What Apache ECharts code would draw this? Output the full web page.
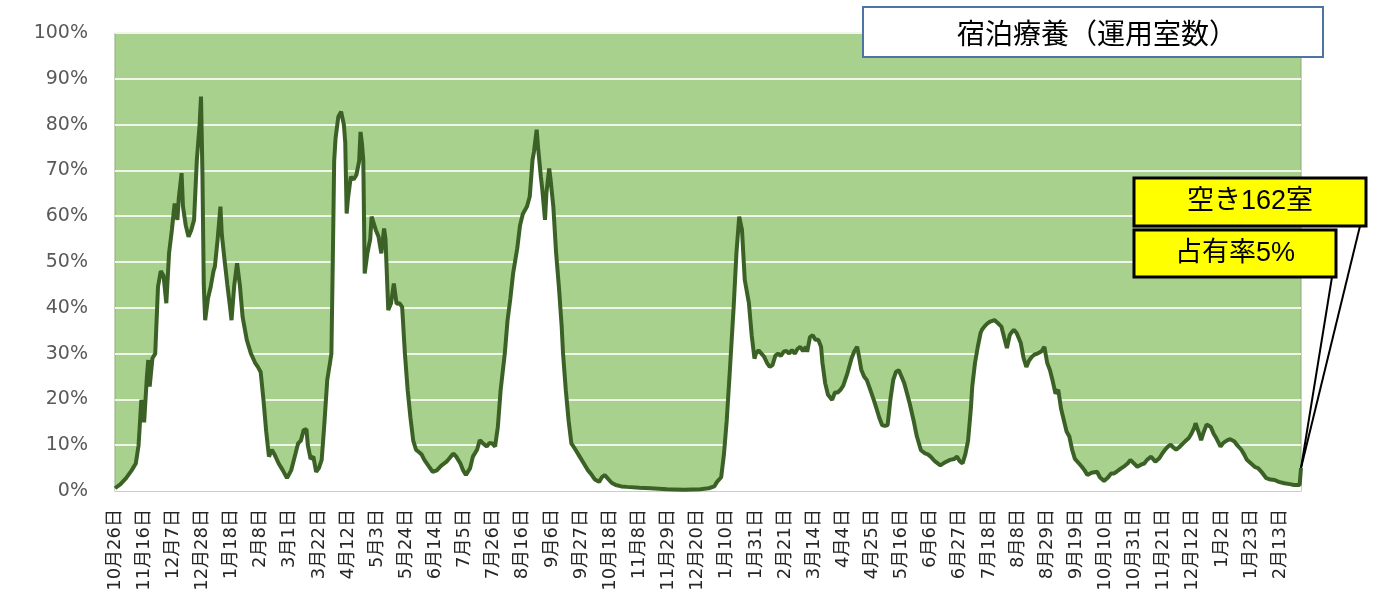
<!DOCTYPE html>
<html>
<head>
<meta charset="utf-8">
<script src="https://cdn.jsdelivr.net/npm/echarts@6/dist/echarts.min.js"></script>
<style>
html,body{margin:0;padding:0;background:#fff;}
#main{width:1382px;height:614px;}
</style>
</head>
<body>
<div id="main"></div>
<script>
// Start date of the series: 2020-10-26 (day 0). One point per listed day.
const startDate = '2020-10-26';
const lastDay = 855;
const tickLabels = ['10月26日','11月16日','12月7日','12月28日','1月18日','2月8日','3月1日','3月22日','4月12日','5月3日','5月24日','6月14日','7月5日','7月26日','8月16日','9月6日','9月27日','10月18日','11月8日','11月29日','12月20日','1月10日','1月31日','2月21日','3月14日','4月4日','4月25日','5月16日','6月6日','6月27日','7月18日','8月8日','8月29日','9月19日','10月10日','10月31日','11月21日','12月12日','1月2日','1月23日','2月13日'];

// days since startDate
const days = [0,4,8,12,15,17,19,21,23,24,25,27,29,31,33,35,37,39,41,43,45,46,48,49,51,53,55,57,59,61,62,63,64,65,67,69,71,72,74,76,77,79,81,83,84,86,88,90,92,95,98,101,103,105,107,109,111,113,115,118,121,124,127,130,132,134,136,138,139,141,143,145,147,149,151,153,155,156,157,158,159,161,163,164,165,166,167,168,170,172,174,176,177,178,179,180,182,184,185,186,188,190,192,194,195,197,199,201,203,205,207,209,211,213,215,217,219,221,223,226,229,232,235,239,242,244,246,249,251,253,256,258,261,263,265,268,270,272,274,276,278,281,283,285,287,290,292,294,297,299,301,302,304,305,307,308,310,311,313,314,316,318,320,322,323,325,327,329,332,335,338,341,343,346,349,351,353,355,358,361,365,369,378,386,398,410,422,428,432,434,437,439,441,443,446,448,450,451,452,454,457,459,461,462,464,466,468,470,472,474,476,478,480,482,484,486,488,490,492,494,496,498,499,501,503,505,507,509,510,512,514,517,519,521,523,525,528,531,533,535,536,538,540,542,544,547,549,551,553,555,557,559,561,563,565,567,569,571,573,576,578,581,584,586,588,591,595,598,600,602,605,607,609,611,613,615,617,618,620,622,624,625,627,629,631,632,634,636,637,639,641,643,645,646,648,650,653,655,657,659,661,663,665,668,670,672,674,676,678,680,682,684,686,688,690,692,695,697,699,701,704,708,710,713,716,718,720,722,725,728,730,732,734,737,740,742,744,747,750,753,755,757,759,761,763,765,767,770,772,774,776,778,779,781,783,785,787,788,790,792,794,797,799,802,804,807,809,812,814,816,819,822,824,827,830,833,836,839,843,847,850,854,855];
// occupancy rate (%)
const rates = [0.6,1.5,2.8,4.5,6,10,19.9,15,25,28.6,22.8,29,30,44.6,48,47,41,52,57,62.8,59.2,64,69.4,62.1,58,55.5,57,59.2,72.3,80,86.1,70,45,37.3,42,44.6,48,49,55,62.1,56,50.4,45,40,37.3,45,49.7,45,38,33,30,28,27.1,26,20,13,7.5,9,8,6,4.5,2.8,4.5,8,10.4,11,13.3,13.5,10,7,7.5,4.2,5,6.8,15,24.2,28,30,50,72,77,81.7,82.8,82.4,80,76,60.6,64,68.6,68,69,72,78.4,76,72.2,47.5,52,55,59.9,60,57,55.5,51.9,57.3,55,39.5,41,45.3,40.9,41,40.2,30,22,16,11,9,8.5,8,6.8,5.5,4.2,4.5,5.5,6.4,7.5,8.2,7.5,6,4.5,3.5,5,7.5,9,11.1,10.5,9.7,10.5,10.4,9.7,14,22,30,37.3,42,47.5,53,58,60.5,62.1,64.3,72.3,74,78.9,75,68.6,66,59.2,65,70.4,68,62.1,52,44.6,36,30,22,15.4,10.4,9,7.5,6,4.5,3.8,2.5,2,3,3.5,2.8,1.8,1.3,1,0.9,0.7,0.6,0.4,0.3,0.4,0.6,1,2,3,8,15.4,25,40.2,52,59.9,60.3,57,46.1,41,34,28.9,30,30.7,30,29.3,28,27.1,27.5,29.5,30,29.5,30.4,30.6,30,30.8,30,31,31.5,30.5,31.5,30.4,33.6,34,33,33,31.5,28,23.5,21,19.9,21.5,21.5,22.1,23,25.7,29,30.5,31.5,30,26.5,25,24.2,22.5,19.9,18,16,14.4,14.2,14.4,20,24.2,26,26.4,25,23.5,21.3,19,15,12,8.9,8.2,8,7.5,6.5,5.6,6.2,6.5,6.8,7,7.5,6.5,6,8,11,18,22.8,28,31.5,34.5,35.2,36,36.6,37,37.3,37.3,36.8,37,35.9,33.5,31.2,34,34.5,35.2,34.5,32.3,29,27.1,28.5,29.3,29.8,30,30.5,31.5,28,26.4,24,21.3,22.1,18,15.5,13,11.9,9,7,6,5.3,4.5,3.5,4,4.2,3,2.2,3,3.8,3.8,4.2,4.9,5.5,6,6.8,6.2,5.3,5.8,6,6.8,7.5,6.4,7.2,8.2,9,9.7,10.1,9.5,9,9.5,10.4,11,11.5,12.5,13.8,14.8,13,11.1,13,14.5,14.8,14,12.5,11.5,9.7,10.5,11.1,11.3,10.8,10,9,8,6.8,6,5.2,5,4,2.8,2.5,2.4,2,1.7,1.5,1.3,1.3,5];

const titleText = '宿泊療養（運用室数）';
const noteVacant = '空き162室';
const noteRate = '占有率5%';

const chart = echarts.init(document.getElementById('main'), null, {renderer: 'canvas'});
const seriesData = days.map((d, i) => [d, rates[i]]);

chart.setOption({
  animation: false,
  backgroundColor: '#ffffff',
  grid: {
    left: 115, right: 81, top: 33, bottom: 123,
    show: true, backgroundColor: '#a9d18e', borderColor: '#8faa7c', borderWidth: 1
  },
  xAxis: {
    type: 'value', min: 0, max: lastDay, interval: 21,
    axisLine: {show: true, lineStyle: {color: '#bfbfbf', width: 1.5}},
    axisTick: {show: false},
    splitLine: {show: false},
    axisLabel: {
      rotate: 90, margin: 18, color: '#262626',
      fontFamily: "'DejaVu Sans', 'Noto Sans CJK JP'", fontSize: 18,
      formatter: v => (v % 21 === 0 && tickLabels[v / 21]) ? tickLabels[v / 21] : ''
    }
  },
  yAxis: {
    type: 'value', min: 0, max: 100, interval: 10,
    axisLine: {show: false}, axisTick: {show: false},
    splitLine: {show: true, lineStyle: {color: '#f1f6ea', width: 2}},
    axisLabel: {
      formatter: '{value}%', margin: 27, color: '#595959',
      fontFamily: "'DejaVu Sans'", fontSize: 19
    }
  },
  series: [{
    type: 'line', data: seriesData, showSymbol: false, symbol: 'none',
    lineStyle: {color: '#3b6126', width: 4},
    areaStyle: {color: '#ffffff', opacity: 1, origin: 'start'},
    z: 3
  }]
});

const endPx = chart.convertToPixel({gridIndex: 0}, [days[days.length - 1], rates[rates.length - 1]]);

chart.setOption({
  graphic: [
    {type: 'rect', z: 100, shape: {x: 863, y: 7, width: 460, height: 50},
     style: {fill: '#ffffff', stroke: '#4d74a4', lineWidth: 2}},
    {type: 'text', z: 101, x: 1097, y: 33,
     style: {text: titleText, fill: '#000', font: "28px 'Noto Sans CJK JP'", align: 'center', verticalAlign: 'middle', textAlign: 'center', textVerticalAlign: 'middle'}},
    {type: 'line', z: 99, shape: {x1: 1360, y1: 226, x2: endPx[0], y2: endPx[1]},
     style: {stroke: '#000', lineWidth: 2}},
    {type: 'line', z: 99, shape: {x1: 1332, y1: 277, x2: endPx[0], y2: endPx[1]},
     style: {stroke: '#000', lineWidth: 2}},
    {type: 'rect', z: 100, shape: {x: 1134, y: 178, width: 232, height: 48},
     style: {fill: '#ffff00', stroke: '#000', lineWidth: 3}},
    {type: 'text', z: 101, x: 1250, y: 202,
     style: {text: noteVacant, fill: '#000', font: "27px 'Liberation Sans', 'Noto Sans CJK JP'", align: 'center', verticalAlign: 'middle', textAlign: 'center', textVerticalAlign: 'middle'}},
    {type: 'rect', z: 100, shape: {x: 1134, y: 230, width: 202, height: 47},
     style: {fill: '#ffff00', stroke: '#000', lineWidth: 3}},
    {type: 'text', z: 101, x: 1235, y: 254,
     style: {text: noteRate, fill: '#000', font: "27px 'Liberation Sans', 'Noto Sans CJK JP'", align: 'center', verticalAlign: 'middle', textAlign: 'center', textVerticalAlign: 'middle'}}
  ]
});
</script>
</body>
</html>
